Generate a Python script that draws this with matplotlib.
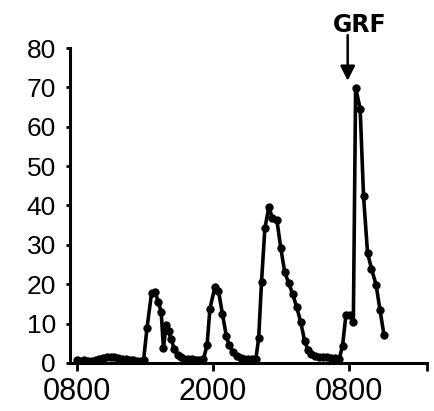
import matplotlib
matplotlib.use('Agg')
import matplotlib.pyplot as plt

# hours after 0800, sampled roughly every 20 min
hours = [0, 0.33, 0.67, 1.0, 1.33, 1.67, 2.0, 2.33, 2.67, 3.0, 3.33, 3.67, 4.0, 4.33, 4.67, 5.0, 5.33, 5.67, 5.9,
         6.2, 6.6, 6.9, 7.2, 7.45, 7.65, 7.9, 8.1, 8.35, 8.6, 8.9, 9.2, 9.5, 9.83, 10.17, 10.5, 10.83, 11.17,
         11.5, 11.75, 12.2, 12.5, 12.85, 13.2, 13.45, 13.75, 14.1, 14.45, 14.8, 15.15, 15.5, 15.8,
         16.05, 16.3, 16.6, 16.95, 17.25, 17.65, 18.0, 18.35, 18.7, 19.05, 19.4, 19.75, 20.1, 20.4, 20.7,
         21.05, 21.4, 21.75, 22.1, 22.45, 22.8, 23.15,
         23.45, 23.75, 24.1, 24.4, 24.6, 25.0, 25.3, 25.65, 26.0, 26.4, 26.75, 27.1]
values = [0.7, 0.6, 0.7, 0.6, 0.6, 0.7, 0.9, 1.2, 1.5, 1.6, 1.4, 1.2, 1.0, 0.9, 0.8, 0.7, 0.6, 0.6, 0.7,
          8.8, 17.7, 18.1, 15.5, 13.0, 3.8, 9.7, 8.0, 6.0, 3.5, 2.0, 1.4, 1.1, 1.0, 0.9, 0.8, 0.8, 0.9,
          4.5, 13.8, 19.4, 18.4, 12.5, 6.8, 4.5, 2.8, 1.8, 1.3, 1.1, 1.0, 1.0, 1.0,
          6.3, 20.5, 34.3, 39.6, 36.9, 36.4, 29.2, 23.0, 20.3, 17.5, 14.2, 10.5, 5.6, 3.3, 2.2,
          1.8, 1.6, 1.5, 1.4, 1.3, 1.2, 1.0,
          4.4, 12.3, 12.2, 10.3, 69.9, 64.6, 42.3, 28.0, 23.9, 19.9, 13.5, 7.1]

xticks = [0, 12, 24, 30.9]
xticklabels = ['0800', '2000', '0800', '']
yticks = [0, 10, 20, 30, 40, 50, 60, 70, 80]

plt.rcParams['font.family'] = ['Liberation Sans', 'DejaVu Sans']

fig = plt.figure(figsize=(4.34, 4.11), dpi=100)
ax = fig.add_axes([0.161, 0.117, 0.823, 0.766])

ax.plot(hours, values, color='black', lw=2.6, marker='o', markersize=5)

ax.set_xlim(-0.6, 30.9)
ax.set_ylim(0, 80)
ax.set_xticks(xticks)
ax.set_xticklabels(xticklabels)
ax.set_yticks(yticks)

ax.spines['top'].set_visible(False)
ax.spines['right'].set_visible(False)
ax.spines['left'].set_linewidth(2.2)
ax.spines['bottom'].set_linewidth(2.2)
ax.tick_params(axis='y', labelsize=19, length=3, width=2, pad=7)
ax.tick_params(axis='x', labelsize=22, length=6, width=2, pad=4)

# GRF marker
ax.annotate('', xy=(23.9, 71), xytext=(23.9, 84), annotation_clip=False,
            arrowprops=dict(arrowstyle='-|>', lw=1.8, color='black', mutation_scale=22))
ax.text(25.0, 85.8, 'GRF', ha='center', va='center', fontsize=17,
        fontweight='bold', family='DejaVu Sans', clip_on=False)

fig.savefig('out.png', dpi=100, facecolor='white')
